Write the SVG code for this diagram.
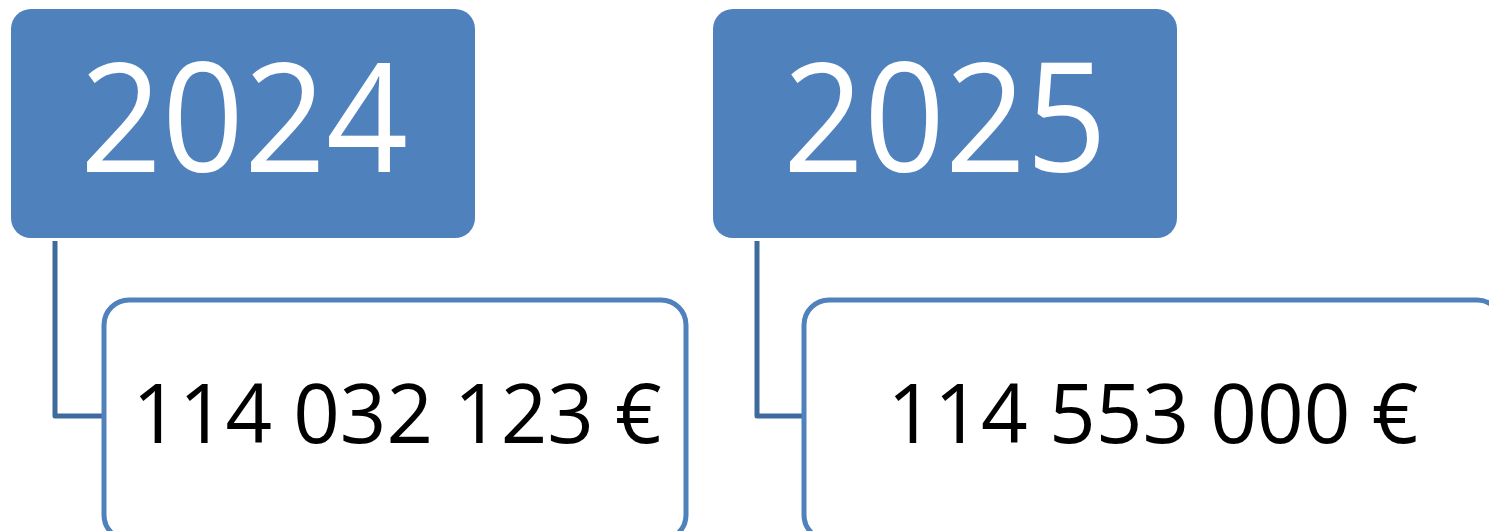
<svg xmlns="http://www.w3.org/2000/svg" width="1489" height="531" viewBox="0 0 1489 531">
  <style>
    .year { fill: #4F81BD; }
    .val { fill: #FFFFFF; stroke: #4F81BD; stroke-width: 5; }
    .conn { fill: none; stroke: #3F6A9C; stroke-width: 5; stroke-linejoin: round; }
    .ytxt { font-family: "Open Sans", "Noto Sans", sans-serif; font-size: 152px; fill: #FFFFFF; text-anchor: middle; }
    .vtxt { font-family: "Open Sans", "Noto Sans", sans-serif; font-size: 83px; fill: #000000; text-anchor: middle; }
  </style>
  <rect width="1489" height="531" fill="#FFFFFF"/>
  <g id="connectors">
    <path class="conn" d="M55,241 V416 H104"/>
    <path class="conn" d="M757,241 V416 H804"/>
  </g>
  <g id="node-2024">
    <rect class="year" x="11" y="9" width="464" height="229" rx="20" ry="20"/>
    <text class="ytxt" x="244" y="172" textLength="328" lengthAdjust="spacingAndGlyphs">2024</text>
  </g>
  <g id="node-2024-value">
    <rect class="val" x="104" y="300" width="582" height="240" rx="25" ry="25"/>
    <text class="vtxt" x="397" y="443" textLength="529" lengthAdjust="spacingAndGlyphs">114 032 123 €</text>
  </g>
  <g id="node-2025">
    <rect class="year" x="713" y="9" width="464" height="229" rx="20" ry="20"/>
    <text class="ytxt" x="945" y="172" textLength="324" lengthAdjust="spacingAndGlyphs">2025</text>
  </g>
  <g id="node-2025-value">
    <rect class="val" x="804" y="300" width="698" height="240" rx="25" ry="25"/>
    <text class="vtxt" x="1153" y="443" textLength="531" lengthAdjust="spacingAndGlyphs">114 553 000 €</text>
  </g>
</svg>
